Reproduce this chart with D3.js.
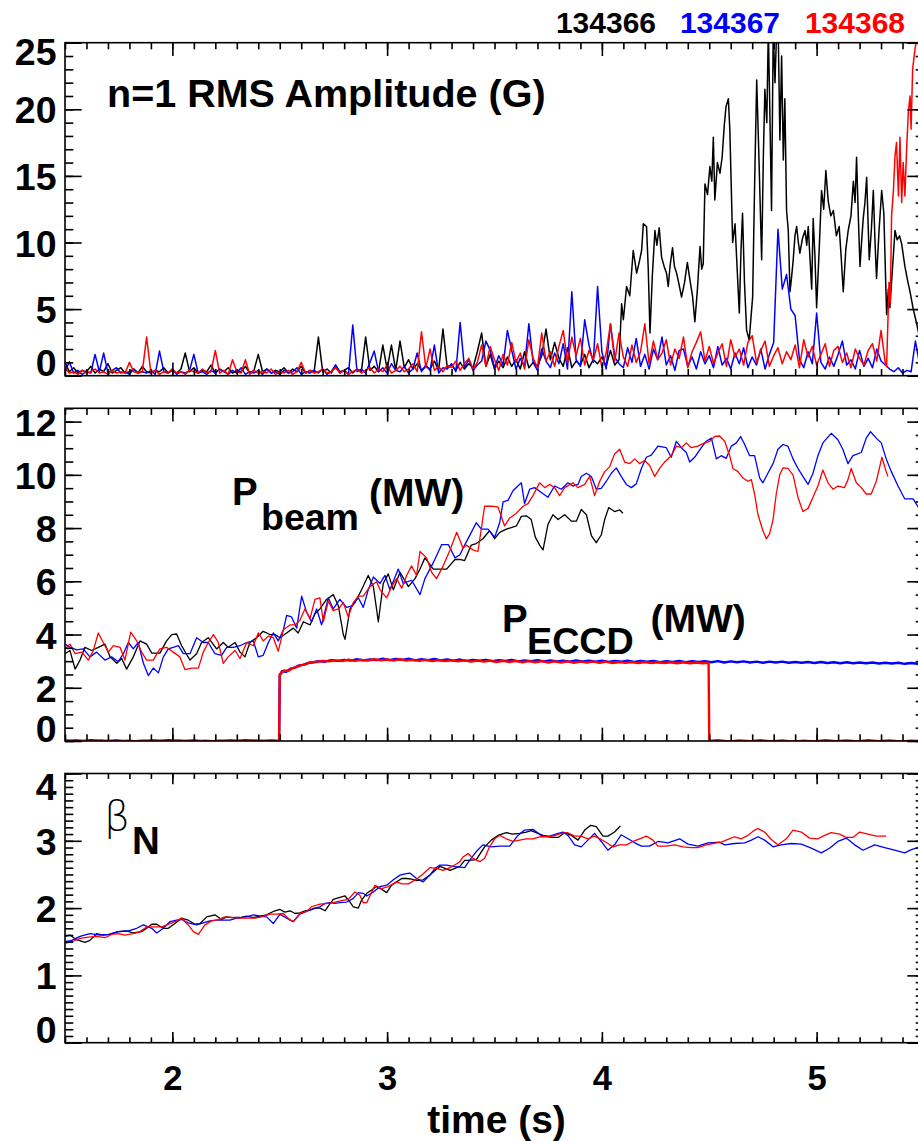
<!DOCTYPE html>
<html>
<head>
<meta charset="utf-8">
<script src="https://cdn.jsdelivr.net/npm/d3@7"></script>
<style>
  body { margin: 0; background: #fff; }
  svg { display: block; }
  text { font-family: "Liberation Sans", Arial, Helvetica, sans-serif; font-weight: bold; fill: #000; }
</style>
</head>
<body>
<svg id="chart" width="918" height="1141"></svg>
<script>
// ---- shots and colours ----
const shots = ["134366", "134367", "134368"];
const shotColors = ["#000000", "#0000ff", "#ff0000"];

// ---- time axis (s) ----
const timeDomain = [1.5, 5.5];
const timeTicks = [2, 3, 4, 5];

// ---- tick labels for each panel ----
const rmsTicks = [0, 5, 10, 15, 20, 25];
const powerTicks = [0, 2, 4, 6, 8, 10, 12];
const betaTicks = [0, 1, 2, 3, 4];

// ---- n=1 RMS amplitude (G), sampled every 0.02 s from 1.50 s ----
const rmsStart = 1.5, rmsStep = 0.02;
const rms366Quiet = [
  1.0,0.3,0.6,0.2,0.4,0.3,0.7,0.2,0.5,0.3,
  0.9,0.2,0.4,0.6,0.2,0.3,0.5,0.2,0.7,0.3,
  0.2,0.4,0.3,0.6,0.2,0.4,0.2,0.5,1.7,0.3,
  0.6,0.2,0.4,0.3,0.8,0.2,0.5,0.3,0.6,0.2,
  0.4,0.3,0.7,0.2,0.4,1.6,0.3,0.5,0.2,0.4,
  0.3,0.6,0.2,0.5,0.3,0.7,0.2,0.4,0.3,2.9,
  0.3,0.5,0.2,0.8,0.3,0.4,0.6,0.2,0.5,0.3,
  2.9,0.4,0.7,0.3,2.3,0.5,2.3,0.4,2.6,0.6,
  1.2,0.5,0.9,0.4,0.7,0.5,1.1,0.4,3.5,0.6,
  0.8,0.4,1.0,0.5,0.9,0.6,1.8,3.2,0.7,1.6,
  0.5,1.1,0.6,1.4,0.7,1.2,0.5,1.8,0.6,1.0,
  0.7,1.5,3.5,1.2,2.5,1.3,0.7,2.1,0.6,1.1,
  0.8,1.6,0.6,1.2,0.9,1.4,0.7,1.9,0.8,1.2
];
// mode burst of 134366 after 4.09 s, [time, amplitude]
const rms366Burst = [
  [4.092,5.4],[4.100,4.2],[4.115,6.7],[4.130,6.0],[4.146,9.4],[4.162,7.7],[4.175,8.6],[4.185,9.4],
  [4.193,11.4],[4.208,11.2],[4.216,8.0],[4.224,3.2],[4.235,7.5],[4.247,10.9],[4.256,9.8],[4.267,11.1],
  [4.278,8.9],[4.290,8.2],[4.301,7.7],[4.309,6.7],[4.318,8.3],[4.329,9.6],[4.338,8.2],[4.348,7.7],
  [4.360,6.8],[4.371,5.9],[4.385,7.0],[4.398,8.5],[4.410,7.2],[4.422,6.0],[4.433,4.05],[4.445,6.5],
  [4.457,9.7],[4.465,8.0],[4.472,8.4],[4.480,14.4],[4.492,13.6],[4.503,15.7],[4.512,14.6],[4.519,17.9],
  [4.526,13.2],[4.538,16.0],[4.550,15.2],[4.560,16.4],[4.570,18.8],[4.578,20.2],[4.589,20.8],[4.596,18.4],
  [4.609,10.0],[4.620,11.4],[4.630,8.0],[4.640,4.7],[4.648,9.5],[4.655,12.2],[4.664,7.0],[4.674,3.4],
  [4.686,2.7],[4.702,5.9],[4.712,15.0],[4.721,22.2],[4.732,16.0],[4.744,8.7],[4.752,16.5],[4.759,21.5],
  [4.768,19.0],[4.775,26.0],[4.782,20.0],[4.790,12.4],[4.798,26.0],[4.806,22.0],[4.814,26.0],[4.821,26.0],
  [4.829,17.7],[4.837,24.0],[4.845,16.2],[4.852,20.8],[4.860,12.4],[4.868,10.9],[4.876,6.3],[4.884,7.5],
  [4.891,8.7],[4.899,10.5],[4.907,11.2],[4.915,10.0],[4.922,9.2],[4.934,10.3],[4.946,10.9],[4.954,9.8],
  [4.961,11.2],[4.977,6.5],[4.984,11.8],[4.992,9.0],[5.000,5.1],[5.012,9.5],[5.023,13.9],[5.033,12.5],
  [5.043,15.4],[5.054,13.1],[5.066,12.0],[5.078,12.4],[5.092,10.5],[5.105,11.2],[5.114,9.0],[5.124,6.3],
  [5.136,9.5],[5.147,10.9],[5.160,12.0],[5.171,14.6],[5.179,13.0],[5.186,16.4],[5.194,12.0],[5.202,8.2],
  [5.210,10.2],[5.217,11.8],[5.225,13.0],[5.233,14.9],[5.245,8.7],[5.255,11.0],[5.264,13.9],[5.272,10.0],
  [5.279,7.3],[5.291,11.0],[5.303,13.9],[5.313,12.2],[5.320,8.0],[5.326,4.6],[5.334,6.5],[5.341,5.1],
  [5.353,8.0],[5.365,10.9],[5.375,10.2],[5.386,10.5],[5.396,9.9],[5.404,9.0],[5.411,8.2],[5.423,7.2],
  [5.435,6.3],[5.450,5.0],[5.466,3.9],[5.480,2.8]
];
const rms367 = [
  0.3,1.05,0.2,0.4,0.1,0.3,0.2,1.6,0.3,1.7,
  0.2,0.4,0.6,0.2,0.3,0.1,0.5,0.2,0.3,0.2,
  0.4,0.1,1.85,0.3,0.2,0.5,0.1,0.3,0.2,0.4,
  1.6,0.2,0.3,0.1,0.4,0.2,0.5,0.3,0.1,0.4,
  0.2,0.6,0.1,0.3,0.2,0.4,0.1,0.5,0.2,0.3,
  0.1,0.4,0.2,0.3,0.6,0.1,0.3,0.2,0.4,0.2,
  0.5,0.1,0.3,0.8,0.2,0.4,0.1,3.8,0.3,0.5,
  0.2,1.0,1.85,0.3,0.6,0.2,0.9,0.4,0.3,0.7,
  0.2,0.5,1.7,0.3,0.8,0.4,2.3,0.2,0.6,0.5,
  0.9,0.3,4.0,0.6,1.2,0.4,0.8,1.1,2.6,1.9,
  0.6,1.5,0.8,3.4,1.9,0.5,1.3,0.7,3.9,1.0,
  0.4,2.0,1.1,0.6,1.7,0.9,2.4,0.5,6.3,1.2,
  0.7,4.2,2.3,1.0,6.7,1.8,0.5,3.9,1.4,0.9,
  0.6,2.1,1.0,2.8,0.7,1.6,0.5,2.0,1.2,2.9,
  0.8,1.5,0.4,1.9,2.0,0.7,1.4,0.5,1.8,0.9,
  1.5,0.6,2.2,0.8,1.3,0.5,1.7,0.9,2.1,0.6,
  1.4,0.8,2.0,0.5,1.6,2.5,11.0,6.5,7.6,5.0,
  4.5,1.2,0.6,1.8,0.9,4.7,1.0,0.5,1.4,0.7,
  1.6,2.6,0.8,1.2,0.5,1.9,0.7,1.3,0.6,2.0,
  1.1,0.8,0.5,0.3,0.6,0.2,0.4,0.3,2.6,0.8,
  0.5
];
const rms368Quiet = [
  0.6,0.2,0.3,0.1,0.4,0.2,0.3,0.5,0.2,0.3,
  0.1,0.4,0.2,0.3,0.2,1.0,0.3,0.2,0.3,2.9,
  0.2,0.4,0.1,0.3,0.2,0.5,0.2,0.3,0.1,0.4,
  0.3,0.2,0.5,0.2,0.3,1.9,0.2,0.4,0.1,1.2,
  0.3,0.2,1.2,0.1,0.4,0.2,0.3,0.2,0.5,0.1,
  0.3,0.2,0.4,0.1,0.3,1.0,0.2,0.4,0.2,0.3,
  0.5,0.2,0.3,0.6,0.2,0.4,0.1,0.3,0.5,0.2,
  0.4,0.6,0.2,0.5,0.3,0.8,0.2,0.4,0.7,0.3,
  0.5,0.9,0.3,3.3,0.6,2.0,0.4,0.7,0.3,0.8,
  0.6,1.1,0.4,0.9,1.3,0.5,1.0,2.3,0.7,2.2,
  1.2,0.4,1.6,0.8,2.5,1.0,1.7,0.5,2.7,1.3,
  0.6,3.2,1.1,1.8,0.7,2.2,3.4,1.0,2.9,1.5,
  2.8,0.8,1.9,1.2,2.4,0.6,1.7,3.9,1.1,3.2,
  1.4,0.7,2.3,1.0,1.8,3.9,0.9,2.6,1.2,1.7,
  2.7,0.8,2.0,1.3,2.9,0.6,1.8,2.5,3.3,1.1,
  2.2,0.9,1.7,2.4,0.7,2.7,1.4,2.0,0.8,2.5,
  3.0,1.0,1.9,2.6,0.7,1.5,2.1,0.9,1.8,1.2,
  2.3,0.6,2.7,1.4,2.2,0.8,1.6,2.4,0.7,1.9,
  2.2,1.0,1.7,0.6,2.0,1.3,0.8,1.9,2.4,1.1,
  3.4,0.9
];
// locked-mode growth of 134368 at the end of the shot, [time, amplitude]
const rms368Rise = [
  [5.326,0.7],[5.330,3.0],[5.337,7.0],[5.343,5.5],[5.349,12.0],[5.358,14.0],[5.365,16.5],[5.372,17.5],
  [5.381,13.5],[5.388,17.9],[5.396,13.0],[5.403,16.0],[5.411,13.5],[5.419,17.0],[5.427,19.8],[5.435,21.0],
  [5.440,18.5],[5.447,23.0],[5.458,24.5],[5.466,25.3],[5.475,24.8]
];

// ---- neutral beam power (MW), [time, power] ----
const beam366 = [
  [1.500,3.28],[1.523,3.40],[1.547,2.70],[1.570,3.04],[1.593,3.52],[1.624,3.40],[1.655,3.52],[1.686,3.64],
  [1.710,3.16],[1.741,2.92],[1.764,3.10],[1.787,2.70],[1.818,3.16],[1.849,3.76],[1.880,3.64],[1.904,3.30],
  [1.942,3.30],[1.973,3.76],[1.997,4.00],[2.020,4.02],[2.043,3.58],[2.082,3.04],[2.113,3.28],[2.136,3.70],
  [2.167,3.88],[2.206,3.46],[2.237,3.70],[2.260,3.52],[2.292,3.70],[2.315,3.34],[2.338,3.16],[2.361,3.70],
  [2.392,3.88],[2.423,4.12],[2.454,4.00],[2.478,4.00],[2.501,3.88],[2.532,4.06],[2.563,4.24],[2.586,4.06],
  [2.610,4.48],[2.641,4.36],[2.664,4.78],[2.687,4.96],[2.718,5.32],[2.749,5.50],[2.773,5.08],[2.796,4.00],
  [2.804,3.82],[2.827,4.96],[2.850,5.20],[2.881,5.68],[2.912,6.22],[2.936,5.80],[2.959,4.48],[2.982,5.92],
  [3.005,6.28],[3.029,5.68],[3.060,6.34],[3.099,5.80],[3.130,6.10],[3.153,6.46],[3.176,6.88],[3.215,6.46],
  [3.277,6.46],[3.316,6.82],[3.339,6.82],[3.361,6.78],[3.392,7.36],[3.415,7.42],[3.446,7.60],[3.477,7.90],
  [3.501,7.60],[3.524,7.84],[3.555,7.96],[3.578,8.02],[3.602,8.08],[3.625,8.44],[3.648,8.46],[3.671,8.32],
  [3.690,7.66],[3.710,7.36],[3.726,7.18],[3.749,8.14],[3.772,8.50],[3.796,8.32],[3.827,8.50],[3.858,8.26],
  [3.881,8.26],[3.904,8.70],[3.928,8.50],[3.951,7.72],[3.974,7.45],[3.997,7.74],[4.013,8.32],[4.032,8.77],
  [4.059,8.62],[4.083,8.68],[4.098,8.56]
];
const beam367 = [
  [1.500,3.64],[1.523,3.52],[1.554,3.42],[1.585,3.46],[1.616,3.16],[1.647,3.34],[1.686,3.04],[1.717,3.16],
  [1.748,2.98],[1.772,3.28],[1.795,3.70],[1.818,3.46],[1.841,3.70],[1.865,2.92],[1.888,2.46],[1.911,2.74],
  [1.935,2.56],[1.958,3.16],[1.981,3.46],[2.004,3.52],[2.028,3.58],[2.051,3.28],[2.082,3.28],[2.113,3.88],
  [2.144,3.70],[2.167,3.70],[2.198,3.28],[2.229,3.22],[2.253,3.52],[2.284,3.52],[2.315,3.58],[2.346,3.70],
  [2.377,3.76],[2.400,3.16],[2.423,3.22],[2.447,3.70],[2.470,4.06],[2.493,3.76],[2.517,4.18],[2.532,4.72],
  [2.555,4.66],[2.579,4.24],[2.602,5.44],[2.625,4.84],[2.648,4.48],[2.672,4.96],[2.695,4.36],[2.726,5.38],
  [2.749,4.96],[2.780,5.32],[2.811,5.02],[2.835,5.08],[2.866,5.38],[2.889,5.02],[2.912,5.68],[2.936,6.16],
  [2.967,5.92],[2.990,6.22],[3.013,5.68],[3.052,6.46],[3.075,5.92],[3.114,6.04],[3.153,5.50],[3.176,6.10],
  [3.215,6.70],[3.254,7.38],[3.285,7.38],[3.316,6.88],[3.339,7.00],[3.361,7.36],[3.392,7.84],[3.415,8.20],
  [3.439,7.96],[3.470,7.96],[3.501,7.66],[3.524,8.20],[3.540,8.98],[3.563,9.04],[3.586,9.40],[3.609,9.58],
  [3.625,9.70],[3.640,8.92],[3.664,9.46],[3.687,9.52],[3.718,9.34],[3.749,9.16],[3.780,9.58],[3.811,9.46],
  [3.842,9.70],[3.865,9.58],[3.889,9.64],[3.904,9.94],[3.928,10.06],[3.951,9.94],[3.974,9.46],[3.997,9.49],
  [4.021,9.76],[4.044,10.06],[4.067,10.26],[4.090,9.94],[4.114,9.64],[4.137,9.52],[4.160,9.66],[4.184,10.24],
  [4.207,10.66],[4.230,10.74],[4.261,11.08],[4.300,11.02],[4.323,10.66],[4.347,11.26],[4.370,11.02],[4.393,10.84],
  [4.409,10.48],[4.432,10.66],[4.463,11.02],[4.486,11.26],[4.510,11.38],[4.533,10.60],[4.556,10.72],[4.579,10.62],
  [4.603,11.08],[4.626,11.20],[4.646,11.44],[4.665,11.14],[4.688,10.72],[4.711,10.72],[4.735,9.88],[4.750,9.70],
  [4.773,10.06],[4.797,10.42],[4.820,10.96],[4.843,11.14],[4.866,11.08],[4.890,10.60],[4.913,10.24],[4.936,9.94],
  [4.960,9.64],[4.983,10.06],[5.006,10.72],[5.029,11.20],[5.068,11.56],[5.099,11.32],[5.122,10.96],[5.146,10.42],
  [5.169,10.72],[5.208,10.84],[5.231,11.38],[5.251,11.62],[5.278,11.38],[5.301,11.20],[5.324,10.60],[5.348,10.12],
  [5.379,9.58],[5.410,9.10],[5.449,9.10],[5.472,8.80],[5.500,8.60]
];
const beam368 = [
  [1.500,3.46],[1.523,3.64],[1.547,3.28],[1.578,3.34],[1.609,3.04],[1.632,3.40],[1.655,4.06],[1.678,3.70],
  [1.702,3.34],[1.725,3.58],[1.756,3.52],[1.779,3.04],[1.806,4.09],[1.834,3.76],[1.857,3.34],[1.880,3.04],
  [1.911,3.04],[1.942,3.46],[1.973,3.52],[2.004,3.34],[2.035,3.16],[2.059,2.68],[2.090,2.74],[2.121,2.74],
  [2.144,3.34],[2.167,3.70],[2.191,4.00],[2.214,3.70],[2.237,2.92],[2.260,3.16],[2.292,3.40],[2.315,3.10],
  [2.346,3.70],[2.377,3.58],[2.400,4.06],[2.423,3.76],[2.447,3.94],[2.470,3.88],[2.493,3.37],[2.517,4.18],
  [2.548,4.36],[2.571,4.36],[2.594,4.54],[2.617,4.96],[2.641,4.60],[2.664,5.32],[2.687,5.38],[2.703,4.48],
  [2.726,5.26],[2.749,4.90],[2.773,4.96],[2.796,5.20],[2.819,4.66],[2.842,5.20],[2.866,5.44],[2.889,5.44],
  [2.920,5.80],[2.951,5.98],[2.967,5.68],[2.998,5.38],[3.021,5.80],[3.044,6.10],[3.068,5.74],[3.091,6.22],
  [3.114,6.58],[3.137,6.22],[3.153,7.12],[3.184,6.88],[3.207,6.34],[3.230,6.10],[3.261,6.58],[3.293,7.18],
  [3.324,7.84],[3.339,7.54],[3.353,7.24],[3.369,7.36],[3.400,7.18],[3.423,7.12],[3.454,8.82],[3.485,8.82],
  [3.516,8.80],[3.547,8.08],[3.571,8.38],[3.602,8.56],[3.633,8.82],[3.656,8.92],[3.679,9.22],[3.710,9.70],
  [3.734,9.52],[3.757,9.64],[3.780,9.52],[3.803,9.22],[3.827,9.52],[3.865,9.70],[3.889,9.52],[3.920,9.64],
  [3.943,9.94],[3.966,9.22],[3.990,9.76],[4.013,10.12],[4.036,10.30],[4.059,10.78],[4.083,10.96],[4.106,10.48],
  [4.129,10.42],[4.153,10.60],[4.176,10.42],[4.199,10.54],[4.222,10.36],[4.246,9.94],[4.269,10.24],[4.292,10.48],
  [4.323,10.72],[4.347,11.08],[4.370,11.02],[4.393,11.20],[4.416,11.02],[4.447,11.08],[4.478,11.20],[4.502,11.26],
  [4.525,11.44],[4.548,11.46],[4.572,11.26],[4.595,10.72],[4.610,10.24],[4.634,10.12],[4.657,9.88],[4.680,9.76],
  [4.696,9.82],[4.711,9.28],[4.727,8.50],[4.750,7.90],[4.766,7.60],[4.781,7.78],[4.797,8.32],[4.812,9.28],
  [4.828,10.00],[4.843,10.26],[4.866,10.24],[4.890,10.00],[4.913,9.16],[4.936,8.62],[4.960,8.74],[4.983,9.16],
  [5.006,9.58],[5.029,10.18],[5.053,9.70],[5.076,9.46],[5.099,9.58],[5.130,9.52],[5.146,9.82],[5.161,10.24],
  [5.185,9.70],[5.208,9.52],[5.231,9.28],[5.254,9.28],[5.278,9.76],[5.304,10.66],[5.324,10.12],[5.332,9.94]
];

// ---- ECCD power (MW), [time, power] ----
const eccd367 = [
  [1.50,0.02],[1.56,-0.03],[1.62,0.03],[1.68,-0.01],[1.74,0.02],[1.80,-0.03],[1.86,0.01],[1.92,-0.02],
  [1.98,0.03],[2.04,-0.01],[2.10,0.02],[2.16,-0.03],[2.22,0.01],[2.28,-0.02],[2.34,0.03],[2.40,-0.01],
  [2.46,0.02],[2.497,0.0],[2.500,2.45],[2.51,2.62],[2.53,2.60],[2.55,2.72],[2.57,2.76],[2.59,2.84],
  [2.61,2.86],[2.63,2.93],[2.65,2.95],[2.68,3.00],[2.71,2.98],[2.74,3.04],[2.77,3.01],[2.80,3.05],
  [2.83,3.02],[2.86,3.07],[2.89,3.03],[2.92,3.06],[2.95,3.04],[2.98,3.09],[3.01,3.04],[3.04,3.08],
  [3.07,3.05],[3.10,3.09],[3.13,3.03],[3.16,3.07],[3.19,3.04],[3.22,3.08],[3.25,3.03],[3.28,3.06],
  [3.31,3.02],[3.34,3.06],[3.37,3.01],[3.40,3.05],[3.43,3.02],[3.46,3.05],[3.49,3.00],[3.52,3.04],
  [3.55,3.01],[3.58,3.05],[3.61,2.99],[3.64,3.03],[3.67,3.00],[3.70,3.04],[3.73,2.99],[3.76,3.03],
  [3.79,2.99],[3.82,3.02],[3.85,2.98],[3.88,3.03],[3.91,2.99],[3.94,3.02],[3.97,2.98],[4.00,3.02],
  [4.03,2.97],[4.06,3.01],[4.09,2.98],[4.12,3.02],[4.15,2.97],[4.18,3.01],[4.21,2.98],[4.24,3.01],
  [4.27,2.96],[4.30,3.00],[4.33,2.97],[4.36,3.01],[4.39,2.96],[4.42,3.00],[4.45,2.97],[4.48,3.00],
  [4.51,2.96],[4.54,3.00],[4.57,2.95],[4.60,2.99],[4.63,2.96],[4.66,2.99],[4.69,2.95],[4.72,2.98],
  [4.75,2.94],[4.78,2.98],[4.81,2.95],[4.84,2.98],[4.87,2.94],[4.90,2.97],[4.93,2.94],[4.96,2.97],
  [4.99,2.93],[5.02,2.97],[5.05,2.93],[5.08,2.96],[5.11,2.92],[5.14,2.96],[5.17,2.92],[5.20,2.95],
  [5.23,2.92],[5.26,2.95],[5.29,2.91],[5.32,2.94],[5.35,2.91],[5.38,2.94],[5.41,2.90],[5.44,2.93],
  [5.47,2.90],[5.50,2.92]
];
const eccd368 = [
  [1.50,-0.01],[1.55,0.03],[1.61,-0.02],[1.67,0.02],[1.73,-0.03],[1.79,0.01],[1.85,-0.02],[1.91,0.03],
  [1.97,-0.01],[2.03,0.02],[2.09,-0.03],[2.15,0.01],[2.21,-0.02],[2.27,0.03],[2.33,-0.01],[2.39,0.02],
  [2.45,-0.02],[2.497,0.0],[2.500,2.50],[2.51,2.58],[2.52,2.65],[2.54,2.63],[2.56,2.74],[2.58,2.78],
  [2.60,2.85],[2.62,2.88],[2.64,2.95],[2.67,2.97],[2.70,3.01],[2.73,2.99],[2.76,3.03],[2.79,3.00],
  [2.82,3.06],[2.85,3.01],[2.88,3.05],[2.91,3.02],[2.94,3.07],[2.97,3.03],[3.00,3.06],[3.03,3.02],
  [3.06,3.07],[3.09,3.02],[3.12,3.05],[3.15,3.01],[3.18,3.05],[3.21,3.00],[3.24,3.04],[3.27,3.00],
  [3.30,3.03],[3.33,2.99],[3.36,3.03],[3.39,2.98],[3.42,3.02],[3.45,2.98],[3.48,3.02],[3.51,2.97],
  [3.54,3.01],[3.57,2.97],[3.60,3.01],[3.63,2.96],[3.66,3.00],[3.69,2.96],[3.72,3.00],[3.75,2.95],
  [3.78,2.99],[3.81,2.95],[3.84,2.99],[3.87,2.94],[3.90,2.98],[3.93,2.95],[3.96,2.98],[3.99,2.94],
  [4.02,2.98],[4.05,2.93],[4.08,2.97],[4.11,2.94],[4.14,2.97],[4.17,2.93],[4.20,2.97],[4.23,2.93],
  [4.26,2.96],[4.29,2.93],[4.32,2.96],[4.35,2.92],[4.38,2.96],[4.41,2.92],[4.44,2.95],[4.47,2.92],
  [4.497,2.94],[4.500,0.0],[4.54,0.03],[4.59,-0.02],[4.64,0.02],[4.69,-0.01],[4.74,0.03],[4.79,-0.02],
  [4.84,0.02],[4.89,-0.03],[4.94,0.01],[4.99,-0.02],[5.04,0.03],[5.09,-0.01],[5.14,0.02],[5.19,-0.02],
  [5.24,0.03],[5.29,-0.01],[5.34,0.02],[5.39,-0.02],[5.44,0.01],[5.50,0.0]
];

// ---- normalised beta, [time, beta_N] ----
const beta366 = [
  [1.500,1.58],[1.523,1.60],[1.554,1.53],[1.593,1.49],[1.616,1.52],[1.647,1.62],[1.678,1.60],[1.710,1.61],
  [1.748,1.65],[1.787,1.66],[1.818,1.63],[1.857,1.65],[1.880,1.70],[1.904,1.76],[1.927,1.76],[1.958,1.70],
  [1.981,1.70],[2.012,1.77],[2.043,1.85],[2.074,1.82],[2.105,1.76],[2.129,1.77],[2.160,1.87],[2.198,1.90],
  [2.229,1.83],[2.253,1.87],[2.284,1.86],[2.315,1.86],[2.346,1.88],[2.377,1.86],[2.408,1.88],[2.439,1.90],
  [2.470,1.95],[2.501,1.98],[2.524,1.94],[2.548,1.96],[2.571,1.92],[2.594,1.93],[2.617,1.96],[2.641,1.97],
  [2.664,2.00],[2.687,2.00],[2.711,1.96],[2.726,2.03],[2.749,2.13],[2.780,2.16],[2.804,2.18],[2.827,2.09],
  [2.842,2.02],[2.866,2.00],[2.881,2.12],[2.905,2.22],[2.928,2.27],[2.951,2.32],[2.974,2.28],[2.998,2.23],
  [3.021,2.34],[3.044,2.39],[3.068,2.44],[3.091,2.44],[3.114,2.43],[3.137,2.41],[3.168,2.42],[3.199,2.49],
  [3.223,2.56],[3.246,2.62],[3.269,2.59],[3.293,2.56],[3.316,2.59],[3.339,2.62],[3.361,2.71],[3.384,2.71],
  [3.415,2.72],[3.454,2.91],[3.485,3.01],[3.516,3.08],[3.555,3.12],[3.586,3.10],[3.617,3.11],[3.648,3.13],
  [3.671,3.15],[3.702,3.11],[3.734,3.07],[3.765,3.05],[3.796,3.05],[3.827,3.12],[3.858,3.08],[3.889,3.01],
  [3.920,3.16],[3.948,3.23],[3.974,3.21],[4.005,3.07],[4.028,3.07],[4.059,3.13],[4.086,3.22]
];
const beta367 = [
  [1.500,1.50],[1.531,1.52],[1.570,1.58],[1.616,1.62],[1.663,1.60],[1.702,1.61],[1.748,1.65],[1.795,1.66],
  [1.834,1.70],[1.865,1.75],[1.904,1.70],[1.927,1.63],[1.958,1.70],[1.989,1.80],[2.020,1.82],[2.043,1.83],
  [2.074,1.78],[2.113,1.75],[2.144,1.78],[2.175,1.81],[2.206,1.82],[2.237,1.82],[2.268,1.82],[2.299,1.85],
  [2.346,1.87],[2.377,1.90],[2.408,1.88],[2.439,1.87],[2.470,1.77],[2.501,1.91],[2.532,1.85],[2.563,1.80],
  [2.594,1.91],[2.625,1.95],[2.664,2.00],[2.687,2.02],[2.711,2.07],[2.734,2.08],[2.757,2.07],[2.780,2.08],
  [2.811,2.09],[2.842,2.14],[2.866,2.23],[2.889,2.22],[2.905,2.18],[2.936,2.24],[2.967,2.32],[2.998,2.34],
  [3.029,2.42],[3.060,2.49],[3.083,2.51],[3.106,2.52],[3.137,2.44],[3.168,2.39],[3.199,2.49],[3.223,2.59],
  [3.246,2.64],[3.277,2.64],[3.308,2.62],[3.339,2.61],[3.361,2.60],[3.384,2.71],[3.415,2.84],[3.446,2.94],
  [3.485,2.91],[3.524,2.92],[3.571,2.92],[3.609,3.08],[3.640,3.16],[3.679,3.17],[3.718,3.08],[3.757,3.07],
  [3.796,3.11],[3.819,3.13],[3.842,3.08],[3.873,2.94],[3.904,2.91],[3.935,3.01],[3.966,3.11],[3.997,2.99],
  [4.028,2.86],[4.059,2.94],[4.090,3.09],[4.122,3.03],[4.153,2.97],[4.184,2.92],[4.222,2.92],[4.261,2.99],
  [4.308,2.97],[4.362,3.03],[4.401,2.95],[4.447,2.92],[4.494,2.97],[4.548,2.98],[4.572,2.94],[4.618,2.96],
  [4.665,2.97],[4.696,3.01],[4.727,3.06],[4.758,3.01],[4.797,2.91],[4.835,2.94],[4.882,2.96],[4.929,2.95],
  [4.975,2.89],[5.022,2.82],[5.060,2.89],[5.099,2.99],[5.138,3.04],[5.177,2.94],[5.216,2.86],[5.270,2.94],
  [5.317,2.90],[5.363,2.86],[5.410,2.82],[5.441,2.87],[5.472,2.90],[5.500,2.92]
];
const beta368 = [
  [1.500,1.48],[1.531,1.50],[1.570,1.55],[1.609,1.57],[1.647,1.58],[1.686,1.56],[1.717,1.61],[1.748,1.62],
  [1.779,1.60],[1.818,1.62],[1.849,1.65],[1.880,1.72],[1.911,1.72],[1.950,1.72],[1.989,1.77],[2.020,1.81],
  [2.043,1.85],[2.074,1.75],[2.098,1.65],[2.121,1.61],[2.152,1.75],[2.183,1.81],[2.214,1.83],[2.245,1.87],
  [2.276,1.86],[2.315,1.85],[2.354,1.85],[2.385,1.85],[2.416,1.87],[2.454,1.91],[2.486,1.91],[2.517,1.92],
  [2.548,1.82],[2.563,1.80],[2.594,1.92],[2.625,1.95],[2.648,2.02],[2.687,2.06],[2.726,2.07],[2.757,2.09],
  [2.788,2.11],[2.819,2.13],[2.850,2.24],[2.873,2.19],[2.889,2.08],[2.905,2.08],[2.943,2.34],[2.974,2.29],
  [3.005,2.32],[3.044,2.39],[3.068,2.36],[3.099,2.36],[3.137,2.43],[3.168,2.51],[3.199,2.60],[3.230,2.59],
  [3.261,2.56],[3.293,2.60],[3.324,2.66],[3.339,2.69],[3.353,2.76],[3.377,2.81],[3.400,2.74],[3.431,2.69],
  [3.454,2.74],[3.477,2.91],[3.501,3.03],[3.524,3.08],[3.555,3.03],[3.586,2.99],[3.617,3.01],[3.648,3.03],
  [3.679,3.03],[3.710,3.06],[3.741,3.06],[3.772,3.07],[3.811,3.11],[3.842,3.12],[3.873,3.07],[3.904,3.07],
  [3.935,3.03],[3.966,3.07],[3.997,3.02],[4.028,2.96],[4.052,2.91],[4.083,2.94],[4.114,2.94],[4.145,2.99],
  [4.176,3.03],[4.207,3.07],[4.238,3.01],[4.261,2.92],[4.300,2.92],[4.339,2.94],[4.378,2.91],[4.416,2.90],
  [4.447,2.90],[4.486,2.94],[4.517,2.96],[4.556,2.98],[4.587,3.02],[4.618,3.06],[4.649,3.03],[4.680,3.08],
  [4.711,3.16],[4.727,3.18],[4.758,3.13],[4.789,3.02],[4.820,2.94],[4.859,3.03],[4.890,3.16],[4.929,3.13],
  [4.967,3.04],[5.006,3.03],[5.037,3.08],[5.068,3.12],[5.107,3.10],[5.138,3.05],[5.169,3.05],[5.200,3.13],
  [5.239,3.10],[5.278,3.07],[5.324,3.07]
];

// ---------------------------------------------------------------------------
const svg = d3.select("#chart");
const plotLeft = 65, plotRight = 924;
const x = d3.scaleLinear().domain(timeDomain).range([plotLeft, plotRight]);
const onGrid = arr => arr.map((v, i) => [rmsStart + i * rmsStep, v]);

const panels = [
  {
    key: "rms", top: 42.7, bottom: 375.7, domain: [0, 25],
    major: rmsTicks, minor: d3.range(0, 25.001, 1),
    edgeShift: { low: -13.7, high: 8 },
    series: [
      { data: onGrid(rms366Quiet).concat(rms366Burst), color: shotColors[0], width: 1.5 },
      { data: onGrid(rms367), color: shotColors[1], width: 1.5 },
      { data: onGrid(rms368Quiet).concat(rms368Rise), color: shotColors[2], width: 1.5 }
    ]
  },
  {
    key: "power", top: 408.3, bottom: 741, domain: [0, 12.5],
    major: powerTicks, minor: d3.range(0, 12.501, 0.5),
    edgeShift: { low: -12.7, high: 0 },
    series: [
      { data: beam366, color: shotColors[0], width: 1.3 },
      { data: beam367, color: shotColors[1], width: 1.3 },
      { data: beam368, color: shotColors[2], width: 1.3 },
      { data: eccd367, color: shotColors[1], width: 2.4 },
      { data: eccd368, color: shotColors[2], width: 2.4 }
    ]
  },
  {
    key: "beta", top: 773.5, bottom: 1042.7, domain: [0, 4],
    major: betaTicks, minor: d3.range(0, 4.001, 0.1),
    edgeShift: { low: -13.7, high: 12.7 },
    series: [
      { data: beta366, color: shotColors[0], width: 1.3 },
      { data: beta367, color: shotColors[1], width: 1.3 },
      { data: beta368, color: shotColors[2], width: 1.3 }
    ]
  }
];

const minorTimes = d3.range(1.5, 5.5001, 0.1);

panels.forEach((p, idx) => {
  const h = p.bottom - p.top;
  const y = d3.scaleLinear().domain(p.domain).range([p.bottom, p.top]);
  const g = svg.append("g").attr("class", "panel-" + p.key);

  const clipId = "clip-" + p.key;
  svg.append("clipPath").attr("id", clipId)
    .append("rect").attr("x", plotLeft).attr("y", p.top)
    .attr("width", plotRight - plotLeft).attr("height", h);

  // data traces
  const line = d3.line().x(d => x(d[0])).y(d => y(d[1]));
  const traces = g.append("g").attr("clip-path", `url(#${clipId})`);
  p.series.forEach(s => {
    traces.append("path")
      .attr("d", line(s.data))
      .attr("fill", "none")
      .attr("stroke", s.color)
      .attr("stroke-width", s.width)
      .attr("stroke-linejoin", "round");
  });

  const style = sel => {
    sel.select(".domain").remove();
    sel.selectAll(".tick line").attr("stroke", "#000").attr("stroke-width", 1.6);
  };

  // left axis: minor then major with labels
  g.append("g").attr("transform", `translate(${plotLeft},0)`)
    .call(d3.axisLeft(y).tickValues(p.minor).tickSize(-8.3).tickFormat(""))
    .call(style);
  const left = g.append("g").attr("transform", `translate(${plotLeft},0)`)
    .call(d3.axisLeft(y).tickValues(p.major).tickSize(-16.7).tickPadding(8.5).tickFormat(d3.format("d")))
    .call(style);
  left.attr("font-family", null).attr("font-size", null);
  left.selectAll(".tick text")
    .attr("fill", "#000")
    .style("font-size", "37.5px")
    .attr("dy", "0.36em")
    .attr("y", d => d === p.domain[0] ? p.edgeShift.low : (d === p.major[p.major.length - 1] && Math.abs(y(d) - p.top) < 2 ? p.edgeShift.high : 0));

  // right axis (mirrored, no labels)
  g.append("g").attr("transform", `translate(${plotRight},0)`)
    .call(d3.axisRight(y).tickValues(p.minor).tickSize(-8.3).tickFormat(""))
    .call(style);
  g.append("g").attr("transform", `translate(${plotRight},0)`)
    .call(d3.axisRight(y).tickValues(p.major).tickSize(-16.7).tickFormat(""))
    .call(style);

  // bottom and top time axes
  const majorLen = h * 0.04, minorLen = h * 0.02;
  g.append("g").attr("transform", `translate(0,${p.bottom})`)
    .call(d3.axisBottom(x).tickValues(minorTimes).tickSize(-minorLen).tickFormat(""))
    .call(style);
  const bottom = g.append("g").attr("transform", `translate(0,${p.bottom})`)
    .call(d3.axisBottom(x).tickValues(timeTicks).tickSize(-majorLen)
      .tickFormat(idx === panels.length - 1 ? d3.format("d") : ""))
    .call(style);
  bottom.attr("font-family", null).attr("font-size", null);
  bottom.selectAll(".tick text")
    .attr("fill", "#000").style("font-size", "34.5px")
    .attr("y", 47.3).attr("dy", 0);
  g.append("g").attr("transform", `translate(0,${p.top})`)
    .call(d3.axisTop(x).tickValues(minorTimes).tickSize(-minorLen).tickFormat(""))
    .call(style);
  g.append("g").attr("transform", `translate(0,${p.top})`)
    .call(d3.axisTop(x).tickValues(timeTicks).tickSize(-majorLen).tickFormat(""))
    .call(style);

  // frame
  g.append("rect")
    .attr("x", plotLeft).attr("y", p.top)
    .attr("width", plotRight - plotLeft).attr("height", h)
    .attr("fill", "none").attr("stroke", "#000").attr("stroke-width", 1.6);
});

// ---- shot legend ----
const legendEnds = [656, 780, 905];
svg.append("g").selectAll("text").data(shots).join("text")
  .attr("x", (d, i) => legendEnds[i]).attr("y", 32.7)
  .attr("text-anchor", "end")
  .style("font-size", "30px")
  .style("fill", (d, i) => shotColors[i])
  .text(d => d);

// ---- panel annotations ----
const label = (txt, xx, yy, size, extra) => {
  const t = svg.append("text").attr("x", xx).attr("y", yy).style("font-size", size + "px").text(txt);
  if (extra) extra(t);
  return t;
};
label("n=1 RMS Amplitude (G)", 107, 107.3, 39.5);

label("P", 232, 505, 38.5);
label("beam", 261, 530, 37.5);
label("(MW)", 369, 506, 39);

label("P", 502, 631.7, 38.5);
label("ECCD", 527, 654, 37.7);
label("(MW)", 650.5, 632, 39);

label("β", 104, 830, 41, t => t.style("font-family", "'DejaVu Sans', sans-serif").style("font-weight", "200"));
label("N", 132, 854.3, 38.5);

label("time (s)", 496.5, 1132.7, 39, t => t.attr("text-anchor", "middle"));
</script>
</body>
</html>
